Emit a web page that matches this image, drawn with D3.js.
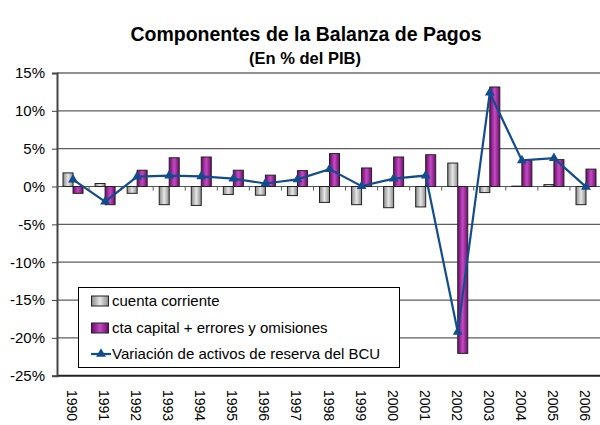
<!DOCTYPE html>
<html lang="es">
<head>
<meta charset="utf-8">
<title>Componentes de la Balanza de Pagos</title>
<script src="https://cdn.jsdelivr.net/npm/d3@7"></script>
<style>
body { margin:0; background:#fff; }
svg { font-family: "Liberation Sans", Arial, sans-serif; }
</style>
</head>
<body>
<svg id="paper" width="600" height="425"></svg>
<script>
var years = ["1990","1991","1992","1993","1994","1995","1996","1997","1998","1999","2000","2001","2002","2003","2004","2005","2006"];
var ctaCorriente = [1.8, 0.4, -0.9, -2.4, -2.5, -1.05, -1.15, -1.2, -2.1, -2.4, -2.8, -2.7, 3.1, -0.8, 0.05, 0.25, -2.4];
var ctaCapital = [-0.9, -2.4, 2.15, 3.8, 3.9, 2.15, 1.5, 2.1, 4.35, 2.45, 3.9, 4.2, -22.05, 13.15, 3.45, 3.55, 2.3];
var varReservas = [0.9, -2.0, 1.3, 1.45, 1.35, 1.05, 0.4, 0.95, 2.3, 0.05, 1.05, 1.45, -19.2, 12.4, 3.45, 3.75, -0.05];
var yTicks = [15, 10, 5, 0, -5, -10, -15, -20, -25];
var seriesNames = ["cuenta corriente", "cta capital + errores y omisiones", "Variación de activos de reserva del BCU"];

var svg = d3.select("#paper");
var plotL = 57, plotT = 73, plotB = 375.7, band = 32.06;

var x = d3.scaleBand().domain(years).range([plotL, plotL + years.length * band]);
var y = d3.scaleLinear().domain([-25, 15]).range([plotB, plotT]);

// gradients
var defs = svg.append("defs");
function grad(id, edge, mid) {
  var g = defs.append("linearGradient").attr("id", id).attr("x1", "0").attr("x2", "1").attr("y1", "0").attr("y2", "0");
  g.append("stop").attr("offset", "0%").attr("stop-color", edge);
  g.append("stop").attr("offset", "50%").attr("stop-color", mid);
  g.append("stop").attr("offset", "100%").attr("stop-color", edge);
}
grad("gGray", "#8a8a8a", "#e6e6e6");
grad("gPurple", "#6e0a6e", "#c24cc2");

// titles
svg.append("text").attr("x", 306).attr("y", 41).attr("text-anchor", "middle")
  .style("font-size", "19.5px").style("font-weight", "bold").text("Componentes de la Balanza de Pagos");
svg.append("text").attr("x", 305).attr("y", 64).attr("text-anchor", "middle")
  .style("font-size", "16.5px").style("font-weight", "bold").text("(En % del PIB)");

// gridlines
svg.append("g").selectAll("line").data(yTicks).enter().append("line")
  .attr("x1", plotL).attr("x2", 600)
  .attr("y1", function(d){ return y(d); }).attr("y2", function(d){ return y(d); })
  .attr("stroke", function(d){ return (d == 15 || d == -25) ? "#222" : "#5e5e5e"; })
  .attr("stroke-width", function(d){ return d == -25 ? 2 : 1.2; });

// y axis
var yAxis = d3.axisLeft(y).tickValues(yTicks).tickSize(5).tickFormat(function(d){ return d + "%"; });
var ga = svg.append("g").attr("transform", "translate(" + plotL + ",0)").call(yAxis);
ga.select(".domain").attr("stroke", "#444").attr("stroke-width", 2);
ga.selectAll(".tick line").attr("stroke", "#444");
ga.selectAll("text").style("font-size", "15px").attr("fill", "#000").attr("x", -12)
  .style("font-family", "Liberation Sans, Arial, sans-serif");

// zero line with category ticks
svg.append("line").attr("x1", plotL).attr("x2", 600).attr("y1", y(0)).attr("y2", y(0))
  .attr("stroke", "#555").attr("stroke-width", 1.2);
svg.append("g").selectAll("line").data(years.slice(1)).enter().append("line")
  .attr("x1", function(d){ return x(d); }).attr("x2", function(d){ return x(d); })
  .attr("y1", y(0)).attr("y2", y(0) + 4).attr("stroke", "#555");

// bars
var bw = 10;
svg.append("g").selectAll("rect").data(ctaCorriente).enter().append("rect")
  .attr("x", function(d,i){ return x(years[i]) + band/2 - bw; })
  .attr("y", function(d){ return y(Math.max(0, d)); })
  .attr("width", bw)
  .attr("height", function(d){ return Math.abs(y(d) - y(0)); })
  .attr("fill", "url(#gGray)").attr("stroke", "#222").attr("stroke-width", 1);
svg.append("g").selectAll("rect").data(ctaCapital).enter().append("rect")
  .attr("x", function(d,i){ return x(years[i]) + band/2; })
  .attr("y", function(d){ return y(Math.max(0, d)); })
  .attr("width", bw)
  .attr("height", function(d){ return Math.abs(y(d) - y(0)); })
  .attr("fill", "url(#gPurple)").attr("stroke", "#222").attr("stroke-width", 1);

// line
var lineColor = "#114d8d";
var line = d3.line()
  .x(function(d,i){ return x(years[i]) + band/2; })
  .y(function(d){ return y(d); });
svg.append("path").datum(varReservas).attr("d", line)
  .attr("fill", "none").attr("stroke", lineColor).attr("stroke-width", 2.2);
var tri = d3.symbol().type(d3.symbolTriangle).size(42);
svg.append("g").selectAll("path").data(varReservas).enter().append("path")
  .attr("d", tri)
  .attr("transform", function(d,i){ return "translate(" + (x(years[i]) + band/2) + "," + y(d) + ")"; })
  .attr("fill", lineColor);

// year labels
svg.append("g").selectAll("text").data(years).enter().append("text")
  .attr("transform", function(d){ return "translate(" + (x(d) + band/2 - 6) + ",390) rotate(90)"; })
  .style("font-size", "14px").text(function(d){ return d; });

// legend
var lg = svg.append("g");
lg.append("rect").attr("x", 78.5).attr("y", 287.5).attr("width", 321).attr("height", 80)
  .attr("fill", "#fff").attr("stroke", "#000").attr("stroke-width", 1);
var ly = [301, 328, 354];
lg.append("rect").attr("x", 91.5).attr("y", ly[0] - 5).attr("width", 17).attr("height", 10)
  .attr("fill", "url(#gGray)").attr("stroke", "#222");
lg.append("rect").attr("x", 91.5).attr("y", ly[1] - 5).attr("width", 17).attr("height", 10)
  .attr("fill", "url(#gPurple)").attr("stroke", "#222");
lg.append("line").attr("x1", 91).attr("x2", 111).attr("y1", ly[2]).attr("y2", ly[2])
  .attr("stroke", lineColor).attr("stroke-width", 2.2);
lg.append("path").attr("d", tri).attr("transform", "translate(101," + ly[2] + ")").attr("fill", lineColor);
lg.selectAll("text.leg").data(seriesNames).enter().append("text")
  .attr("x", 112).attr("y", function(d,i){ return ly[i] + 5; })
  .style("font-size", "15px").text(function(d){ return d; });
</script>
</body>
</html>
